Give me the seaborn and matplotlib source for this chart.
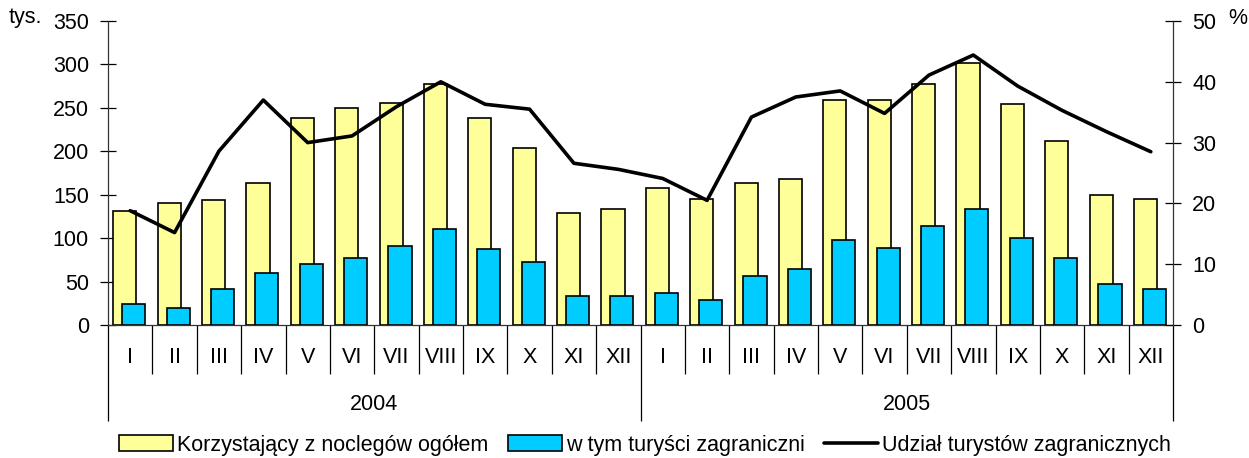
import numpy as np
import pandas as pd
import matplotlib
matplotlib.use("Agg")
import matplotlib.pyplot as plt
from matplotlib.patches import Patch
from matplotlib.lines import Line2D
import seaborn as sns

# ---- data ----
months = ["I", "II", "III", "IV", "V", "VI", "VII", "VIII", "IX", "X", "XI", "XII"]
years = ["2004", "2005"]
total = [131, 140, 144, 163, 238, 250, 256, 277, 238, 204, 129, 133,
         158, 145, 163, 168, 259, 259, 277, 302, 254, 212, 150, 145]
foreign = [24, 20, 42, 60, 70, 77, 91, 110, 88, 72, 33, 33,
           37, 29, 56, 64, 98, 89, 114, 133, 100, 77, 47, 42]
share = [18.8, 15.2, 28.6, 37.0, 30.0, 31.1, 35.9, 40.0, 36.3, 35.5, 26.6, 25.6,
         24.1, 20.5, 34.2, 37.5, 38.5, 34.8, 41.1, 44.4, 39.3, 35.3, 31.8, 28.5]
left_ticks = [0, 50, 100, 150, 200, 250, 300, 350]
right_ticks = [0, 10, 20, 30, 40, 50]
labels = ["Korzystający z noclegów ogółem", "w tym turyści zagraniczni",
          "Udział turystów zagranicznych"]

sns.set_style("white")
plt.rcParams["font.family"] = ["Liberation Sans", "DejaVu Sans"]
plt.rcParams["text.color"] = "black"
plt.rcParams["axes.labelcolor"] = "black"
plt.rcParams["xtick.color"] = "black"
plt.rcParams["ytick.color"] = "black"
FS = 15.5

n = len(total)
pos = np.arange(n)
df = pd.DataFrame({"pos": pos, "total": total, "foreign": foreign, "share": share})

fig = plt.figure(figsize=(12.49, 4.58), dpi=100)
ax = fig.add_axes([108 / 1249, 1 - 325 / 458, (1173 - 108) / 1249, (325 - 21) / 458])

YELLOW = "#FFFF99"
BLUE = "#00CCFF"

sns.barplot(x=df["pos"] - 0.12, y=df["total"], native_scale=True, width=0.52,
            color=YELLOW, saturation=1, edgecolor="black", linewidth=1.2, ax=ax,
            legend=False, zorder=2)
sns.barplot(x=df["pos"] + 0.08, y=df["foreign"], native_scale=True, width=0.52,
            color=BLUE, saturation=1, edgecolor="black", linewidth=1.2, ax=ax,
            legend=False, zorder=3)

ax.set_xlim(-0.5, n - 0.5)
ax.set_ylim(0, 350)
ax.set_yticks(left_ticks)
ax.set_xlabel("")
ax.set_ylabel("")
ax.tick_params(axis="y", left=True, direction="inout", length=11.5, width=0.9,
               labelsize=FS, pad=8, colors="black")
# separators as ticks
ax.set_xticks(np.arange(-0.5, n, 12))
ax.set_xticks(np.arange(-0.5, n, 1), minor=True)
ax.set_xticklabels([])
ax.tick_params(axis="x", which="major", bottom=True, direction="out", length=69,
               width=0.9, color="black")
ax.tick_params(axis="x", which="minor", bottom=True, direction="out", length=35,
               width=0.9, color="black")
for s in ["top", "right"]:
    ax.spines[s].set_visible(False)
for s in ["left", "bottom"]:
    ax.spines[s].set_color("#333333")
    ax.spines[s].set_linewidth(0.9)

trans = ax.get_xaxis_transform()
for i in range(n):
    ax.text(i, -0.108, months[i % 12], transform=trans, ha="center", va="center",
            fontsize=FS, color="black")
for k, yr in enumerate(years):
    ax.text(12 * k + 5.5, -0.263, yr, transform=trans, ha="center", va="center",
            fontsize=FS, color="black")

ax2 = ax.twinx()
sns.lineplot(x=df["pos"], y=df["share"], ax=ax2, color="black", linewidth=2.6,
             legend=False)
ax2.set_ylim(0, 50)
ax2.set_yticks(right_ticks)
ax2.set_ylabel("")
ax2.set_xlim(-0.5, n - 0.5)
ax2.tick_params(axis="y", right=True, direction="inout", length=11.5, width=0.9,
                labelsize=FS, pad=8, colors="black")
for s in ["top", "left", "bottom"]:
    ax2.spines[s].set_visible(False)
ax2.spines["right"].set_color("#333333")
ax2.spines["right"].set_linewidth(0.9)

fig.text(25 / 1249, 1 - 18 / 458, "tys.", ha="center", va="center", fontsize=FS,
         color="black")
fig.text(1238 / 1249, 1 - 18 / 458, "%", ha="center", va="center", fontsize=FS,
         color="black")

handles = [Patch(facecolor=YELLOW, edgecolor="black", linewidth=1.2),
           Patch(facecolor=BLUE, edgecolor="black", linewidth=1.2),
           Line2D([0], [0], color="black", linewidth=2.6)]
leg = fig.legend(handles, labels, loc="center",
                 bbox_to_anchor=(645 / 1249, 1 - 445 / 458),
                 ncol=3, frameon=False, fontsize=FS, handlelength=2.5, handleheight=0.7,
                 handletextpad=0.2, columnspacing=0.9, borderaxespad=0, borderpad=0)
for t in leg.get_texts():
    t.set_color("black")

fig.savefig("out.png", dpi=100)
